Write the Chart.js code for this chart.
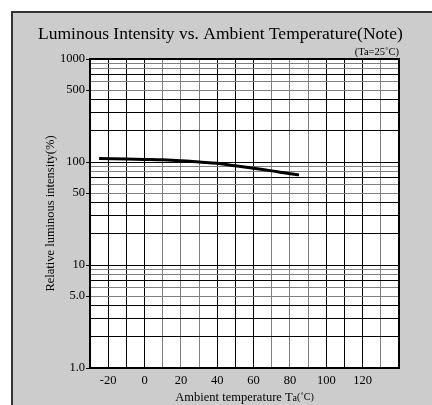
<!DOCTYPE html>
<html>
<head>
<meta charset="utf-8">
<script src="https://cdn.jsdelivr.net/npm/chart.js@4.4.1/dist/chart.umd.min.js"></script>
<style>
  html, body { margin: 0; padding: 0; background: #fff; }
  #wrap { width: 432px; height: 405px; }
</style>
</head>
<body>
<div id="wrap"><canvas id="chart" width="432" height="405"></canvas></div>
<script>
// curve
const temps = [-25, -10, 0, 10, 20, 30, 40, 50, 60, 70, 80, 85];
const intensity = [108, 107, 106, 105, 103, 100, 97, 92, 87, 82, 77, 75];

// axis ticks
const xGridValues = [-30, -20, -10, 0, 10, 20, 30, 40, 50, 60, 70, 80, 90, 100, 110, 120, 130, 140];
const xLabelValues = [-20, 0, 20, 40, 60, 80, 100, 120];
const yGridValues = [1, 2, 3, 4, 5, 6, 7, 8, 9, 10, 20, 30, 40, 50, 60, 70, 80, 90,
                     100, 200, 300, 400, 500, 600, 700, 800, 900, 1000];
const yLabelValues = [1, 5, 10, 50, 100, 500, 1000];
const yLabelTexts = ['1.0', '5.0', '10', '50', '100', '500', '1000'];
const xGrayLines = [10, 20, 30, 70, 80, 90, 130];
const yGrayMantissa = [5, 6, 8, 9];

const serif = '"Liberation Serif", "DejaVu Serif", serif';

function mantissa(v) {
    return Math.round(v / Math.pow(10, Math.floor(Math.log10(v) + 1e-9)));
}

const framePlugin = {
    id: 'frame',
    beforeDraw(chart) {
        const ctx = chart.ctx;
        const a = chart.chartArea;
        ctx.save();
        ctx.fillStyle = '#fff';
        ctx.fillRect(0, 0, chart.width, chart.height);
        ctx.fillStyle = '#cccccc';
        ctx.fillRect(11, 11, chart.width - 11, chart.height - 11);
        ctx.strokeStyle = '#333';
        ctx.lineWidth = 2;
        ctx.beginPath();
        ctx.moveTo(12, chart.height);
        ctx.lineTo(12, 12);
        ctx.lineTo(chart.width, 12);
        ctx.stroke();
        ctx.fillStyle = '#fff';
        ctx.fillRect(a.left, a.top, a.right - a.left, a.bottom - a.top);
        ctx.restore();
    },
    afterDraw(chart) {
        const ctx = chart.ctx;
        const a = chart.chartArea;
        ctx.save();
        ctx.strokeStyle = '#000';
        ctx.lineWidth = 2;
        ctx.strokeRect(a.left, a.top, a.right - a.left, a.bottom - a.top);

        ctx.fillStyle = '#000';
        ctx.textBaseline = 'alphabetic';
        ctx.font = '17.5px ' + serif;
        ctx.textAlign = 'left';
        ctx.fillText('Luminous Intensity vs. Ambient Temperature(Note)', 38, 39);

        ctx.font = '10.5px ' + serif;
        ctx.textAlign = 'right';
        ctx.fillText('(Ta=25˚C)', a.right, 55);

        // x axis title with subscript a
        const main = 'Ambient temperature T';
        ctx.font = '12.5px ' + serif;
        const w1 = ctx.measureText(main).width;
        ctx.font = '10px ' + serif;
        const w2 = ctx.measureText('a').width;
        const w3 = ctx.measureText('(˚C)').width;
        let x = (a.left + a.right) / 2 - (w1 + w2 + w3) / 2;
        const base = 401;
        ctx.textAlign = 'left';
        ctx.font = '12.5px ' + serif;
        ctx.fillText(main, x, base);
        x += w1;
        ctx.font = '10px ' + serif;
        ctx.fillText('a', x, base);
        x += w2;
        ctx.fillText('(˚C)', x, base - 1);

        // y axis title
        ctx.translate(54, (a.top + a.bottom) / 2);
        ctx.rotate(-Math.PI / 2);
        ctx.font = '12.5px ' + serif;
        ctx.textAlign = 'center';
        ctx.fillText('Relative luminous intensity(%)', 0, 0);
        ctx.restore();
    }
};

const chart = new Chart(document.getElementById('chart'), {
    type: 'scatter',
    data: {
        datasets: [{
            data: temps.map((t, i) => ({ x: t, y: intensity[i] })),
            showLine: true,
            borderColor: '#000',
            borderWidth: 3,
            pointRadius: 0,
            tension: 0.4,
            fill: false
        }]
    },
    options: {
        responsive: false,
        animation: false,
        layout: { padding: { left: 0, top: 59, right: 33, bottom: 0 } },
        plugins: {
            legend: { display: false },
            tooltip: { enabled: false }
        },
        scales: {
            x: {
                type: 'linear',
                min: -30,
                max: 140,
                afterBuildTicks: scale => { scale.ticks = xGridValues.map(v => ({ value: v })); },
                afterFit: scale => { scale.height = 37; scale.paddingLeft = 0; scale.paddingRight = 0; },
                ticks: {
                    autoSkip: false,
                    maxRotation: 0,
                    padding: 5,
                    color: '#000',
                    font: { family: serif, size: 12.5 },
                    callback: v => xLabelValues.includes(v) ? String(v) : ''
                },
                grid: {
                    drawTicks: false,
                    lineWidth: 1,
                    color: c => xGrayLines.includes(c.tick.value) ? '#808080' : '#000'
                },
                border: { display: false }
            },
            y: {
                type: 'logarithmic',
                min: 1,
                max: 1000,
                afterBuildTicks: scale => { scale.ticks = yGridValues.map(v => ({ value: v })); },
                afterFit: scale => { scale.width = 90; scale.paddingTop = 0; scale.paddingBottom = 0; },
                ticks: {
                    autoSkip: false,
                    padding: 1,
                    color: '#000',
                    font: { family: serif, size: 12.5 },
                    callback: v => {
                        const i = yLabelValues.indexOf(v);
                        return i >= 0 ? yLabelTexts[i] : '';
                    }
                },
                grid: {
                    tickLength: 4,
                    lineWidth: 1,
                    color: c => yGrayMantissa.includes(mantissa(c.tick.value)) ? '#808080' : '#000',
                    tickColor: c => yLabelValues.includes(c.tick.value) ? '#000' : 'rgba(0,0,0,0)'
                },
                border: { display: false }
            }
        }
    },
    plugins: [framePlugin]
});
</script>
</body>
</html>
